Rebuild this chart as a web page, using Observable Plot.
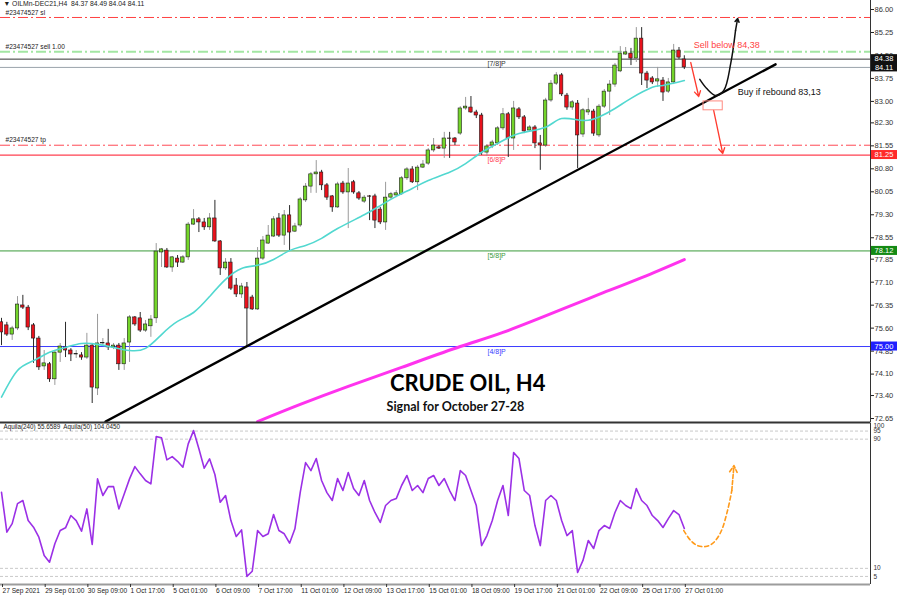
<!DOCTYPE html>
<html><head><meta charset="utf-8">
<script src="https://cdn.jsdelivr.net/npm/d3@7"></script>
<script src="https://cdn.jsdelivr.net/npm/@observablehq/plot@0.6"></script>
<style>
body{margin:0;background:#fff}
#wrap{position:relative;width:900px;height:600px;overflow:hidden;background:#fff}
#main,#osc{position:absolute;left:0}
#main{top:0}
#osc{top:422px}
</style></head><body>
<div id="wrap"><div id="main"></div><div id="osc"></div></div>
<script>
// ---------- DATA ----------
const opens = [75.79,75.69,75.39,75.59,76.34,76.27,75.69,75.26,74.35,74.42,
73.93,74.80,74.97,74.87,74.74,74.71,74.64,75.03,73.63,75.10,
75.10,74.97,75.03,74.42,75.13,75.95,75.92,75.52,75.66,75.92,
78.07,78.13,77.58,77.87,77.74,77.91,78.98,79.15,79.05,78.89,
79.18,78.43,77.55,77.74,76.99,76.70,76.93,76.60,76.21,77.87,
78.36,78.59,79.18,78.62,79.28,78.75,78.95,79.77,80.22,80.62,
80.68,80.26,79.90,79.54,80.32,80.03,80.36,80.00,79.73,79.90,
79.90,79.47,79.05,79.86,79.93,79.97,80.49,80.78,80.36,80.84,
80.97,81.40,81.50,81.46,81.79,81.79,81.95,82.77,82.80,82.64,
82.54,81.33,81.56,81.63,82.12,82.58,81.79,82.74,82.48,82.05,
82.15,81.63,81.56,83.03,83.58,83.85,83.19,82.80,82.93,81.92,
82.64,82.67,81.89,82.83,83.32,83.55,83.98,84.53,84.56,84.40,
85.05,83.91,83.75,83.65,83.68,83.32,83.62,84.66,84.37];
const highs = [75.92,75.79,75.66,76.63,76.67,76.34,75.75,75.33,74.87,74.48,
74.87,75.10,75.79,74.93,74.87,74.80,75.43,75.10,76.05,75.26,
75.56,75.10,75.10,75.26,76.01,75.98,76.11,75.85,76.01,78.36,
78.20,78.20,77.94,77.97,77.97,79.05,79.47,79.21,79.18,79.34,
79.77,78.46,77.87,77.87,77.22,77.06,77.09,76.67,78.23,78.59,
78.95,79.24,79.34,79.44,79.60,79.02,79.86,80.32,80.68,81.07,
80.75,80.32,79.93,80.36,80.39,80.81,80.42,80.06,79.93,79.93,
79.97,79.54,80.36,80.03,80.09,80.55,80.84,80.87,80.91,81.07,
81.46,81.79,81.56,81.99,81.99,81.82,82.83,83.13,83.16,82.71,
82.61,81.59,81.73,82.18,82.77,82.64,83.00,82.80,82.54,82.21,
82.21,81.89,83.10,83.68,83.94,83.91,83.26,83.03,83.03,82.77,
83.10,82.74,82.90,83.39,83.68,84.24,84.79,84.76,84.73,85.41,
85.41,83.98,83.81,84.11,83.78,83.75,84.86,84.76,84.49];
const lows = [75.03,75.33,75.20,75.52,76.21,75.52,74.45,74.22,74.22,73.83,
73.73,74.48,74.64,74.51,74.61,74.55,74.58,73.14,73.40,75.03,
74.87,74.90,74.22,74.22,74.48,75.66,75.46,75.46,75.30,75.75,
77.58,77.55,77.42,77.58,77.71,77.81,78.95,78.72,78.79,78.79,
78.40,77.32,77.48,76.83,76.60,76.57,75.00,76.18,76.18,77.81,
78.33,78.56,78.56,78.30,78.13,78.72,78.89,79.70,80.00,80.00,
80.09,79.77,79.38,79.51,79.97,78.85,79.97,79.77,79.67,79.11,
78.85,78.98,78.79,79.80,79.86,79.93,80.42,80.32,80.09,80.81,
80.91,81.33,81.43,81.14,81.14,81.56,81.89,82.71,82.61,82.44,
81.24,81.20,81.46,81.56,82.05,81.17,81.40,82.41,81.95,81.99,
81.46,80.75,81.50,82.97,83.52,83.16,82.71,82.71,80.81,81.82,
82.54,81.86,81.82,82.77,82.54,83.46,83.94,84.50,84.17,84.27,
83.52,83.42,83.55,83.46,83.00,83.26,83.55,84.37,84.04];
const closes = [75.46,75.39,75.59,76.37,76.27,75.62,75.26,74.32,74.45,73.93,
74.80,75.00,74.87,74.74,74.75,74.64,75.03,73.66,75.10,75.11,
74.97,75.03,74.42,75.10,75.95,75.72,75.52,75.72,75.88,78.10,
78.17,77.58,77.91,77.74,77.91,78.98,79.15,79.05,78.89,79.18,
78.43,77.55,77.74,76.89,76.70,76.96,76.24,76.21,77.87,78.46,
78.62,79.15,78.62,79.28,78.72,78.92,79.80,80.22,80.62,80.68,
80.26,79.86,79.54,80.29,80.03,80.32,80.03,79.83,79.86,79.89,
79.11,79.05,79.86,79.97,80.00,80.49,80.78,80.36,80.84,80.94,
81.40,81.56,81.46,81.79,81.78,81.66,82.77,82.83,82.64,82.54,
81.33,81.53,81.66,82.12,82.58,81.79,82.77,82.48,82.02,82.15,
81.63,81.56,83.03,83.58,83.85,83.23,82.80,82.97,81.89,82.71,
82.71,81.95,82.83,83.32,83.55,84.17,84.56,84.60,84.40,85.05,
83.91,83.68,83.62,83.72,83.29,83.62,84.66,84.43,84.11];

// moving averages (bar index, price)
const maFastIdx = [0,3,6,9,12,15,18,21,24,27,30,33,36,39,42,45,48,51,54,57,60,63,68,71,74,77,80,84,87,90,93,97,102,105,109,112,115,118,122,124,128];
const maFastVal = [73.35,74.22,74.54,74.81,74.97,75.10,75.07,74.97,74.87,74.94,75.39,75.82,76.11,76.63,77.19,77.55,77.65,77.84,78.13,78.30,78.53,78.85,79.30,79.60,79.90,80.16,80.42,80.69,80.97,81.34,81.63,81.95,82.16,82.44,82.38,82.49,82.77,83.10,83.46,83.52,83.68];
const maSlowIdx = [48,56,65,75,86,94,105,112,120,128];
const maSlowVal = [72.55,73.11,73.70,74.32,75.00,75.46,76.21,76.70,77.25,77.84];

// trend line anchors
const trendIdx = [19.5, 145.1];
const trendVal = [72.55, 84.21];

// oscillator (Aquila) values
const oscVals = [57.1,32.4,37.7,50.1,52.0,39.6,35.5,29.3,17.9,13.8,
25.2,33.4,35.1,42.7,39.6,33.0,46.8,24.8,65.4,55.1,
60.6,60.6,46.8,56.1,65.4,73.0,68.5,64.4,62.3,91.6,
90.8,77.2,79.2,76.3,72.6,87.1,95.3,84.0,72.0,77.8,
68.1,50.9,55.1,39.6,29.7,33.8,5.0,8.2,33.4,29.7,
31.4,43.3,33.4,31.4,25.6,34.5,57.1,
75.5,70.5,78.0,64.4,56.9,52.0,65.6,58.2,69.3,59.4,
55.1,64.4,52.0,44.6,38.4,48.9,52.0,53.2,61.3,67.5,
58.2,61.3,56.9,65.6,67.5,61.3,65.6,58.2,52.0,70.5,
67.5,58.2,48.9,24.1,30.3,39.6,52.0,61.3,42.7,81.7,
78.0,58.2,55.1,36.5,24.1,52.0,55.1,52.0,39.6,30.3,
33.4,7.4,14.9,27.2,22.3,33.4,36.5,34.7,44.6,52.0,
48.9,47.0,59.4,52.0,48.9,42.7,39.6,35.3,40.8,45.8,
43.3,34.7];
const oscLevels = [95, 90, 10, 5];
const oscLabelVals = [95, 90, 10, 5];

// axis ticks
const priceTicks = [86.00,85.25,84.50,83.75,83.00,82.30,81.55,80.80,80.05,79.30,78.55,77.85,77.10,76.35,75.60,74.85,74.10,73.40,72.65];
const timeTickIdx = [0,8,16,24,32,40,48,56,64,72,80,88,96,104,112,120,128];
const timeLabels = ["27 Sep 2021","29 Sep 01:00","30 Sep 09:00","1 Oct 17:00","5 Oct 01:00","6 Oct 09:00","7 Oct 17:00","11 Oct 01:00","12 Oct 09:00","13 Oct 17:00","15 Oct 01:00","18 Oct 09:00","19 Oct 17:00","21 Oct 01:00","22 Oct 09:00","25 Oct 17:00","27 Oct 01:00"];

// horizontal levels
const orderLabels = ["#23474527 sl", "#23474527 sell 1.00", "#23474527 tp"];
const orderPrices = [85.74, 84.62, 81.57];
const murreyLabels = ["[7/8]P","[6/8]P","[5/8]P","[4/8]P"];
const murreyPrices = [84.38, 81.25, 78.12, 75.00];
const murreyLabelIdx = 91.1;
const bidPrice = 84.11;

// annotations (bar index / price anchors)
const sellText = "Sell below 84,38";
const sellTextAt = [129.75, 84.83];
const buyText = "Buy if rebound 83,13";
const buyTextAt = [138.0, 83.29];
const arrowSell = [129.2, 84.27, 130.7, 83.16];
const arrowDown = [133.5, 82.71, 135.2, 81.30];
const boxZone = [131.6, 82.71, 135.2, 83.00];
const curveIdx = [130.9, 132.2, 133.9, 135.4, 136.7, 137.6];
const curveVal = [83.72, 83.42, 83.19, 83.36, 84.24, 85.32];
const curveHead = [137.6, 85.32, 138.0, 85.71];
const oscCurveIdx = [127.9, 129.2, 130.5, 132.0, 133.3, 134.8, 136.1, 136.9];
const oscCurveVal = [33.4, 27.2, 24.1, 23.5, 25.4, 32.2, 45.8, 58.2];
const oscCurveHead = [136.9, 58.2, 137.3, 73.6];
const title = "CRUDE OIL, H4";
const titleAt = [87.4, 73.79];
const subtitle = "Signal for October 27-28";
const subtitleAt = [85.1, 73.01];
const header = "▼ OILMn-DEC21,H4  84.37 84.49 84.04 84.11";
const oscHeader = "Aquila(240) 55.6589  Aquila(50) 104.0450";

// ---------- BUILD ----------
const xDom = [-0.19, 162.9];
const yDom = [72.52, 86.294];
const candles = opens.map((o, i) => ({i, o, h: highs[i], l: lows[i], c: closes[i], up: closes[i] >= o}));
const fastMA = maFastIdx.map((i, k) => ({i, v: maFastVal[k]}));
const slowMA = maSlowIdx.map((i, k) => ({i, v: maSlowVal[k]}));
const trend = trendIdx.map((i, k) => ({i, v: trendVal[k]}));
const curve = curveIdx.map((i, k) => ({i, v: curveVal[k]}));
const osc = oscVals.map((v, i) => ({i, v}));
const oscCurve = oscCurveIdx.map((i, k) => ({i, v: oscCurveVal[k]}));

const GREEN = "#74d52a", RED = "#e8121c";
const font = "Liberation Sans, Arial, sans-serif";

function lvl(price, stroke, w, dash) {
  return Plot.ruleY([price], {stroke, strokeWidth: w, strokeDasharray: dash});
}

const main = Plot.plot({
  width: 900, height: 424,
  marginTop: 0, marginBottom: 2, marginLeft: 0, marginRight: 30,
  x: {type: "linear", domain: xDom, axis: null},
  y: {domain: yDom, axis: null},
  style: {fontFamily: font, fontSize: "8px", background: "transparent", overflow: "visible", color: "#222"},
  marks: [
    lvl(orderPrices[0], "#ff4040", 1, "10,3,2,3"),
    lvl(orderPrices[1], "#a3e6a3", 2, "10,3,2,3"),
    lvl(orderPrices[2], "#ff4a55", 1, "10,3,2,3"),
    lvl(murreyPrices[0], "#333", 1),
    lvl(bidPrice, "#9aa3ab", 1),
    lvl(murreyPrices[1], "#ff4050", 1.2),
    lvl(murreyPrices[2], "#3a9a3a", 1),
    lvl(murreyPrices[3], "#3b3bff", 1),
    Plot.text(orderLabels.map((t, k) => ({t, p: orderPrices[k]})), {y: "p", text: "t", frameAnchor: "left", dx: 5, dy: -5, textAnchor: "start", fontSize: 6.6, fill: "#222"}),
    Plot.text(murreyLabels.map((t, k) => ({t, p: murreyPrices[k], k})), {x: () => murreyLabelIdx, y: "p", text: "t", dy: 5, textAnchor: "start", fontSize: 7,
      fill: d => ["#333", "#ff4050", "#3a9a3a", "#3b3bff"][d.k]}),
    Plot.line(slowMA, {x: "i", y: "v", stroke: "#ff33ee", strokeWidth: 3, curve: "natural", clip: true}),
    Plot.ruleX(candles, {x: "i", y1: "l", y2: "h", stroke: d => d.up ? "#9a9a9a" : "#2a2a2a", strokeWidth: 1}),
    Plot.rectY(candles, {x1: d => d.i - 0.32, x2: d => d.i + 0.32, y1: "o", y2: "c", fill: d => d.up ? GREEN : RED, stroke: "#1b1b1b", strokeWidth: 0.6}),
    Plot.line(fastMA, {x: "i", y: "v", stroke: "#52d8d0", strokeWidth: 1.6, curve: "natural"}),
    Plot.line(trend, {x: "i", y: "v", stroke: "#000", strokeWidth: 2.4, clip: true}),
    Plot.arrow([arrowSell], {x1: d => d[0], y1: d => d[1], x2: d => d[2], y2: d => d[3], stroke: "#ff3b2f", strokeWidth: 1.3, headLength: 7}),
    Plot.arrow([arrowDown], {x1: d => d[0], y1: d => d[1], x2: d => d[2], y2: d => d[3], stroke: "#ff3b2f", strokeWidth: 1.3, headLength: 7}),
    Plot.rect([boxZone], {x1: d => d[0], y1: d => d[1], x2: d => d[2], y2: d => d[3], fill: "none", stroke: "#ff8a80", strokeWidth: 1}),
    Plot.line(curve, {x: "i", y: "v", stroke: "#111", strokeWidth: 1.5, curve: "catmull-rom"}),
    Plot.arrow([curveHead], {x1: d => d[0], y1: d => d[1], x2: d => d[2], y2: d => d[3], stroke: "#111", strokeWidth: 1.5, headLength: 8}),
    Plot.text([sellText], {x: () => sellTextAt[0], y: () => sellTextAt[1], text: d => d, textAnchor: "start", fontSize: 9, fill: "#ff4444", fontFamily: font}),
    Plot.text([buyText], {x: () => buyTextAt[0], y: () => buyTextAt[1], text: d => d, textAnchor: "start", fontSize: 9, fill: "#111", fontFamily: font}),
    Plot.text([title], {x: () => titleAt[0], y: () => titleAt[1], text: d => d, fontSize: 22, fontWeight: "bold", fill: "#000", fontFamily: "Lato, sans-serif"}),
    Plot.text([subtitle], {x: () => subtitleAt[0], y: () => subtitleAt[1], text: d => d, fontSize: 12.5, fontWeight: "bold", fill: "#111", fontFamily: "Lato, sans-serif"}),
    Plot.text([header], {frameAnchor: "top-left", text: d => d, dx: 3, dy: 0.5, lineAnchor: "top", textAnchor: "start", fontSize: 6.8, fill: "#222"}),
    Plot.axisY({anchor: "right", ticks: priceTicks, tickFormat: d => d.toFixed(2), tickSize: 3, tickPadding: 1, label: null, fontSize: 7.5, fill: "#333"}),
    Plot.ruleX([xDom[1]], {stroke: "#333", strokeWidth: 1}),
    Plot.ruleY([yDom[0]], {stroke: "#333", strokeWidth: 2})
  ]
});
document.getElementById("main").appendChild(main);

// price tag boxes on the right scale
const ys = main.scale("y");
const tagPrices = [murreyPrices[0], bidPrice, murreyPrices[1], murreyPrices[2], murreyPrices[3]];
const tagFill = ["#111", "#111", "#ff2a2a", "#148a14", "#2020ff"];
const svgM = d3.select(main);
const right = 900 - 30;
tagPrices.forEach((p, k) => {
  const y = ys.apply(p);
  svgM.append("rect").attr("x", right + 1).attr("y", y - 4.5).attr("width", 26).attr("height", 9).attr("fill", tagFill[k]);
  svgM.append("text").attr("x", right + 14).attr("y", y + 2.7).attr("text-anchor", "middle")
    .attr("font-size", 7.5).attr("font-family", font).attr("fill", "#fff").text(p.toFixed(2));
});

const labelByIdx = new Map(timeTickIdx.map((d, k) => [d, timeLabels[k]]));
const oscPlot = Plot.plot({
  width: 900, height: 178,
  marginTop: 0.5, marginBottom: 16, marginLeft: 0, marginRight: 30,
  x: {type: "linear", domain: xDom, axis: null},
  y: {domain: [0, 100], axis: null},
  style: {fontFamily: font, fontSize: "7px", background: "transparent", overflow: "visible", color: "#222"},
  marks: [
    Plot.ruleY(oscLevels, {y: d => d, stroke: "#c9c9c9", strokeDasharray: "3,2"}),
    Plot.line(osc, {x: "i", y: "v", stroke: "#9b30e6", strokeWidth: 1.6}),
    Plot.line(oscCurve, {x: "i", y: "v", stroke: "#ff9a1a", strokeWidth: 1.6, strokeDasharray: "4,3", curve: "catmull-rom"}),
    Plot.arrow([oscCurveHead], {x1: d => d[0], y1: d => d[1], x2: d => d[2], y2: d => d[3], stroke: "#ff9a1a", strokeWidth: 1.6, headLength: 7, strokeDasharray: "4,2"}),
    Plot.text([oscHeader], {frameAnchor: "top-left", text: d => d, dx: 3, dy: 2, lineAnchor: "top", textAnchor: "start", fontSize: 6.3, fill: "#222"}),
    Plot.text(oscLabelVals, {y: d => d, text: d => String(d), frameAnchor: "right", dx: 3, textAnchor: "start", fontSize: 6.5, fill: "#333"}),
    Plot.text([100], {y: d => d, text: d => String(d), frameAnchor: "right", dx: 3, dy: 2.5, textAnchor: "start", fontSize: 6.5, fill: "#333"}),
    Plot.ruleY([0], {stroke: "#9c9c9c", strokeWidth: 2}),
    Plot.ruleX([xDom[1]], {stroke: "#333", strokeWidth: 1}),
    Plot.axisX({ticks: timeTickIdx, tickFormat: d => labelByIdx.get(d), tickSize: 3, tickPadding: 1, textAnchor: "start", dx: 1, label: null, fontSize: 6.6, fill: "#222", stroke: "#333"})
  ]
});
document.getElementById("osc").appendChild(oscPlot);
</script></body></html>
